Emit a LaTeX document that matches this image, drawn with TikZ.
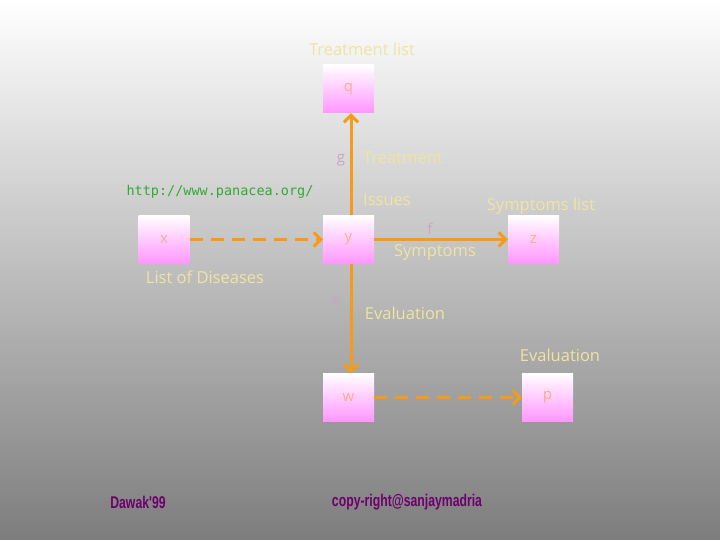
\documentclass[tikz,border=0pt]{standalone}
\usepackage{fontspec}
\setmainfont{Open Sans}
\newfontfamily\monof{DejaVu Sans Mono}
\newfontfamily\condf{Liberation Sans}
\usetikzlibrary{arrows.meta}
\definecolor{orng}{RGB}{245,155,25}
\definecolor{paleyel}{RGB}{240,228,160}
\definecolor{boxpink}{RGB}{255,150,255}
\definecolor{boxtxt}{RGB}{255,170,140}
\definecolor{lbl}{RGB}{205,165,190}
\definecolor{urlgreen}{RGB}{50,170,50}
\definecolor{purp}{RGB}{110,0,110}
\definecolor{bggray}{RGB}{125,125,125}
\begin{document}
\begin{tikzpicture}[x=1pt,y=-1pt,
  boxnode/.style={minimum width=51pt,minimum height=48pt,inner sep=0pt,
    top color=white,bottom color=boxpink,text=boxtxt,font=\fontsize{15}{15}\selectfont},
  yel/.style={text=paleyel,font=\fontsize{16.5}{18}\selectfont,inner sep=0pt},
  let/.style={text=lbl,font=\fontsize{15}{16}\selectfont,inner sep=0pt},
  arr/.style={draw=orng,line width=3pt,-{Straight Barb[length=7pt,width=14pt,line width=3pt]}},
  darr/.style={arr,line width=3.5pt,dash pattern=on 13pt off 8pt},
  foot/.style={text=purp,font=\condf\bfseries\fontsize{17}{18}\selectfont,inner sep=0pt,xscale=0.72}]
\shade[top color=white,bottom color=bggray] (0,0) rectangle (720,540);
\useasboundingbox (0,0) rectangle (720,540);
% boxes
\node[boxnode] (q) at (348.5,89) {q};
\node[boxnode] (x) at (164,239.5) {x};
\node[boxnode] (y) at (348.5,239.5) {y};
\node[boxnode] (z) at (533.5,239.5) {z};
\node[boxnode] (w) at (348.5,397.5) {w};
\node[boxnode] (p) at (547.5,397.5) {p};
% connectors
\draw[arr] ([xshift=2.5pt]y.north) -- ([xshift=2.5pt]q.south);
\draw[arr] (y.east) -- (z.west);
\draw[arr] ([xshift=2.5pt]y.south) -- ([xshift=2.5pt]w.north);
\draw[darr] (x.east) -- (y.west);
\draw[darr] (w.east) -- (p.west);
% labels
\node[yel] (tl) at (362,49) {Treatment list};
\node[let] (g) at (341,160) {g};
\node[yel] (tr) at (403,158) {Treatment};
\node[yel] (is) at (387,200) {Issues};
\node[text=urlgreen,font=\monof\fontsize{13.5}{14}\selectfont,inner sep=0pt] (url) at (220,192) {http://www.panacea.org/};
\node[yel] (sl) at (541,206) {Symptoms list};
\node[let] (f) at (430,229) {f};
\node[yel] (sy) at (435,253) {Symptoms};
\node[yel] (ld) at (205,277) {List of Diseases};
\node[let] (e) at (336,301) {e};
\node[yel] (ev1) at (405,313) {Evaluation};
\node[yel] (ev2) at (560,355) {Evaluation};
\node[foot] (dw) at (138,502) {Dawak'99};
\node[foot] (cr) at (407,502) {copy-right@sanjaymadria};
\end{tikzpicture}
\end{document}
